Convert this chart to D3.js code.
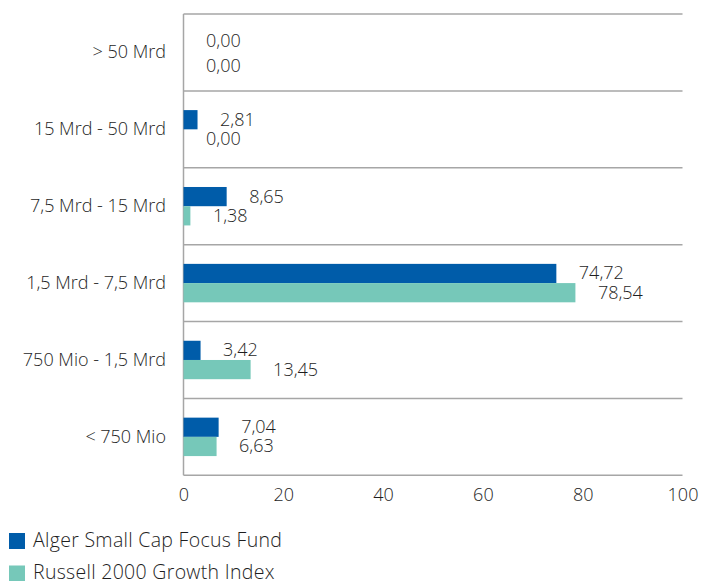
<!DOCTYPE html>
<html><head><meta charset="utf-8">
<script src="https://cdn.jsdelivr.net/npm/d3@7"></script>
<style>body{margin:0;background:#fff}svg{display:block;font-family:"Open Sans",sans-serif;font-weight:300}</style>
</head><body><svg id="c" width="701" height="581"></svg>
<script>
const categories = ["> 50 Mrd","15 Mrd - 50 Mrd","7,5 Mrd - 15 Mrd","1,5 Mrd - 7,5 Mrd","750 Mio - 1,5 Mrd","< 750 Mio"];
const fundValues = [0.00, 2.81, 8.65, 74.72, 3.42, 7.04];
const indexValues = [0.00, 0.00, 1.38, 78.54, 13.45, 6.63];
const seriesNames = ["Alger Small Cap Focus Fund","Russell 2000 Growth Index"];
const xTicks = [0,20,40,60,80,100];
const colors = ["#005CA9","#76C8B9"];

(function(){
const svg = d3.select("#c");
const pL = 183.5, pR = 682.5, pT = 14, pB = 475.3;
const x = d3.scaleLinear().domain([0,100]).range([pL,pR]);
const y = d3.scaleBand().domain(categories).range([pT,pB]).paddingInner(0).paddingOuter(0);
const inner = d3.scaleBand().domain([0,1]).range([y.bandwidth()*0.25, y.bandwidth()*0.75]);
const fmt = v => v.toFixed(2).replace(".",",");
const fs = 18, tc = "#1e1e1e";

const gl = [...categories.map(c=>y(c)), pB];
svg.selectAll(".grid").data(gl).enter().append("line")
  .attr("x1",pL).attr("x2",pR).attr("y1",d=>d).attr("y2",d=>d)
  .attr("stroke","#a6a6a6").attr("stroke-width",1.5);
svg.append("line").attr("x1",pL).attr("x2",pL).attr("y1",pT).attr("y2",pB)
  .attr("stroke","#a6a6a6").attr("stroke-width",1.5);

const series = [fundValues, indexValues];
series.forEach((vals,si)=>{
  const g = svg.append("g");
  g.selectAll("rect").data(vals).enter().append("rect")
    .attr("x",x(0)).attr("y",(d,i)=>y(categories[i])+inner(si))
    .attr("width",d=>x(d)-x(0)).attr("height",inner.bandwidth())
    .attr("fill",colors[si]);
  g.selectAll("text").data(vals).enter().append("text")
    .attr("x",d=>x(d)+22.5)
    .attr("y",(d,i)=>{
      let c = y(categories[i])+inner(si)+inner.bandwidth()/2;
      if (fundValues[i]===0 && indexValues[i]===0) c += (si===0 ? -1.5 : 4.5);
      return c;
    })
    .attr("dy","0.33em").attr("font-size",fs).attr("fill",tc)
    .text(fmt);
});

svg.append("g").selectAll("text").data(categories).enter().append("text")
  .attr("x",166).attr("y",d=>y(d)+y.bandwidth()/2).attr("dy","0.33em")
  .attr("text-anchor","end").attr("font-size",fs).attr("fill",tc).text(d=>d);

const ax = svg.append("g").attr("transform",`translate(0,${pB})`)
  .call(d3.axisBottom(x).tickValues(xTicks).tickSize(0).tickPadding(13).tickFormat(d=>d));
ax.select(".domain").remove();
ax.selectAll("text").attr("font-size",fs).attr("fill",tc)
  .attr("font-family","Open Sans").attr("font-weight",300);

const lg = svg.append("g");
seriesNames.forEach((n,i)=>{
  lg.append("rect").attr("x",9).attr("y",533+i*32.5).attr("width",16).attr("height",16).attr("fill",colors[i]);
  lg.append("text").attr("x",33).attr("y",540.5+i*32.5).attr("dy","0.33em")
    .attr("font-size",19.5).attr("letter-spacing","0.3px").attr("fill",tc).text(n);
});
})();
</script></body></html>
